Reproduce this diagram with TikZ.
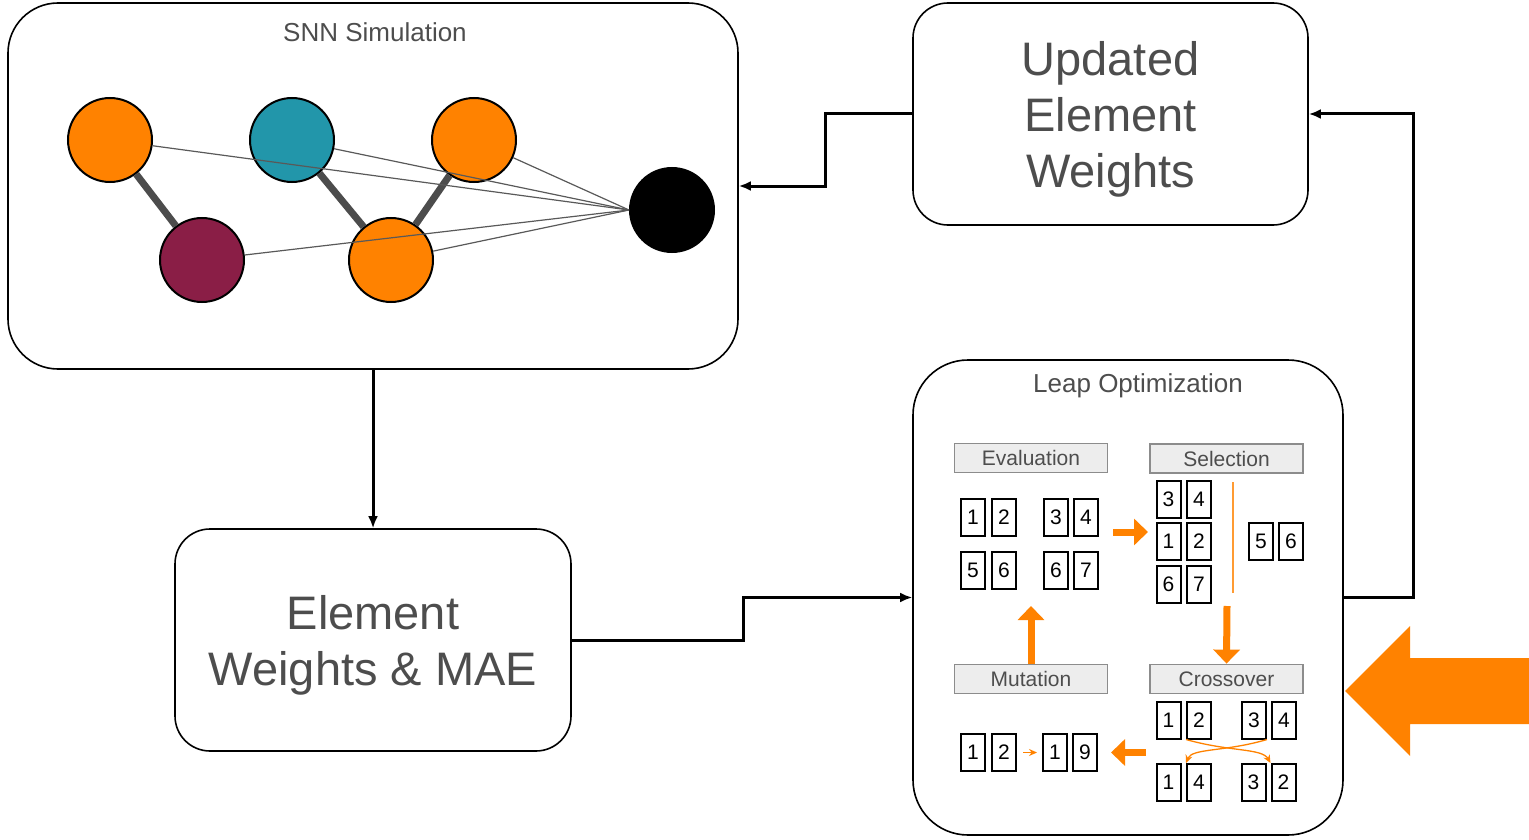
\documentclass[tikz,border=0pt]{standalone}
\usepackage{fontspec}
\setmainfont{Liberation Sans}
\usetikzlibrary{arrows.meta}

\definecolor{nOrange}{HTML}{FF8200}
\definecolor{nTeal}{HTML}{2296AA}
\definecolor{nMaroon}{HTML}{8A1E46}
\definecolor{txtGray}{HTML}{4D4D4D}

\tikzset{
  panel/.style={draw, line width=1.6pt, rounded corners=#1, inner sep=0pt},
  panel/.default=35pt,
  bigtext/.style={align=center, text=txtGray, font=\fontsize{47}{56}\selectfont},
  neuron/.style={circle, draw, line width=2pt, minimum size=84pt, inner sep=0pt},
  synapse/.style={line width=7pt, draw=black!70},
  weak/.style={line width=1.2pt, draw=black!65},
  conn/.style={line width=3pt, -{Latex[length=12pt,width=10pt]}},
  stage/.style={draw=black!45, fill=black!7, line width=1.8pt, minimum width=153pt,
    minimum height=29pt, inner sep=0pt, text=txtGray, font=\fontsize{21}{24}\selectfont},
  gene/.style={draw, line width=2pt, minimum width=24pt, minimum height=37pt,
    inner sep=0pt, font=\fontsize{21}{24}\selectfont},
  flow/.style={draw=nOrange, line width=7pt, -{Triangle[length=14pt,width=26pt]}},
  swap/.style={draw=nOrange, line width=1.3pt, -{Stealth[length=8pt,width=7pt]}},
  title/.style={text=txtGray, font=\fontsize{26}{30}\selectfont}
}

\begin{document}
\begin{tikzpicture}[x=1pt, y=-1pt]
  \useasboundingbox (0,0) rectangle (1529,840);

  % main panels
  \node[panel=50pt, minimum width=730pt, minimum height=366pt] (snn) at (373,186) {};
  \node[title] (snnTitle) at (375,32) {SNN Simulation};
  \node[panel, minimum width=395pt, minimum height=222pt] (upd) at (1110.5,114) {};
  \node[bigtext] (updText) at (1110.5,119) {Updated\\Element\\Weights};
  \node[panel, minimum width=396pt, minimum height=222pt] (ewm) at (373,640) {};
  \node[bigtext] (ewmText) at (373,645) {Element\\Weights \& MAE};
  \node[panel=55pt, minimum width=430pt, minimum height=475pt] (leap) at (1128,597.5) {};
  \node[title] (leapTitle) at (1138,386) {Leap Optimization};

  % network
  \node[neuron, fill=nOrange] (o1) at (110,140) {};
  \node[neuron, fill=nTeal] (t1) at (292,140) {};
  \node[neuron, fill=nOrange] (o2) at (474,140) {};
  \node[neuron, fill=nMaroon] (m1) at (202,260) {};
  \node[neuron, fill=nOrange] (o3) at (391,260) {};
  \node[neuron, fill=black] (out) at (672,210) {};
  \draw[synapse] (o1) -- (m1);
  \draw[synapse] (t1) -- (o3);
  \draw[synapse] (o2) -- (o3);
  \foreach \n in {o1,t1,o2,m1,o3}
    \draw[weak] (\n) -- (out.west);

  % connectors
  \draw[conn] (snn.south) -- (ewm.north);
  \draw[conn] (ewm.east) -- ++(172,0) |- (leap.west);
  \draw[conn] (leap.east) -- ++(70,0) |- (upd.east);
  \draw[conn] (upd.west) -- ++(-87,0) |- (snn.east);

  % stages
  \node[stage] (eval) at (1031,458) {Evaluation};
  \node[stage] (sel) at (1226.5,458.5) {Selection};
  \node[stage] (mut) at (1031,679) {Mutation};
  \node[stage] (cross) at (1226.5,679) {Crossover};

  % genes
  \foreach \x/\y/\t [count=\i] in {973/517/1, 1004/517/2, 1056/517/3, 1086/517/4,
      973/570/5, 1004/570/6, 1056/570/6, 1086/570/7}
    \node[gene] (ev\i) at (\x,\y) {\t};
  \foreach \x/\y/\t [count=\i] in {1168.5/499/3, 1199/499/4, 1168.5/541.5/1, 1199/541.5/2,
      1168.5/584/6, 1199/584/7, 1261/541.5/5, 1291/541.5/6}
    \node[gene] (se\i) at (\x,\y) {\t};
  \foreach \x/\y/\t [count=\i] in {1168.5/720/1, 1199/720/2, 1254/720/3, 1284/720/4,
      1168.5/782.5/1, 1199/782.5/4, 1253.5/782.5/3, 1283.5/782.5/2}
    \node[gene] (cr\i) at (\x,\y) {\t};
  \foreach \x/\y/\t [count=\i] in {973/752.5/1, 1004/752.5/2, 1055/752.5/1, 1085/752.5/9}
    \node[gene] (mu\i) at (\x,\y) {\t};

  % orange flow
  \coordinate (cut1) at (1233,482);
  \coordinate (cut2) at (1233,593);
  \coordinate (evOut) at (1113,532);
  \coordinate (selIn) at (1148,532);
  \coordinate (selOut) at (1227,606);
  \coordinate (evIn) at (1031,606);
  \coordinate (crOut) at (1146,752.5);
  \draw[draw=nOrange!80, line width=1.3pt] (cut1) -- (cut2);
  \draw[flow] (evOut) -- (selIn);
  \draw[flow] (selOut) -- (cross.north);
  \draw[flow] (crOut) -- ([xshift=13pt]mu4.east);
  \draw[flow] (mut.north) -- (evIn);
  \draw[swap] (cr2.south west) .. controls (1230,752) and (1262,748) .. (cr8.north west);
  \draw[swap] (cr3.south east) .. controls (1225,752) and (1192,748) .. (cr6.north west);
  \draw[swap] ([xshift=6pt]mu2.east) -- ([xshift=-5pt]mu3.west);

  % big input arrow
  \fill[nOrange] (1345,691) -- (1410,626) -- (1410,658) -- (1529,658) -- (1529,724)
    -- (1410,724) -- (1410,756) -- cycle;
\end{tikzpicture}
\end{document}
